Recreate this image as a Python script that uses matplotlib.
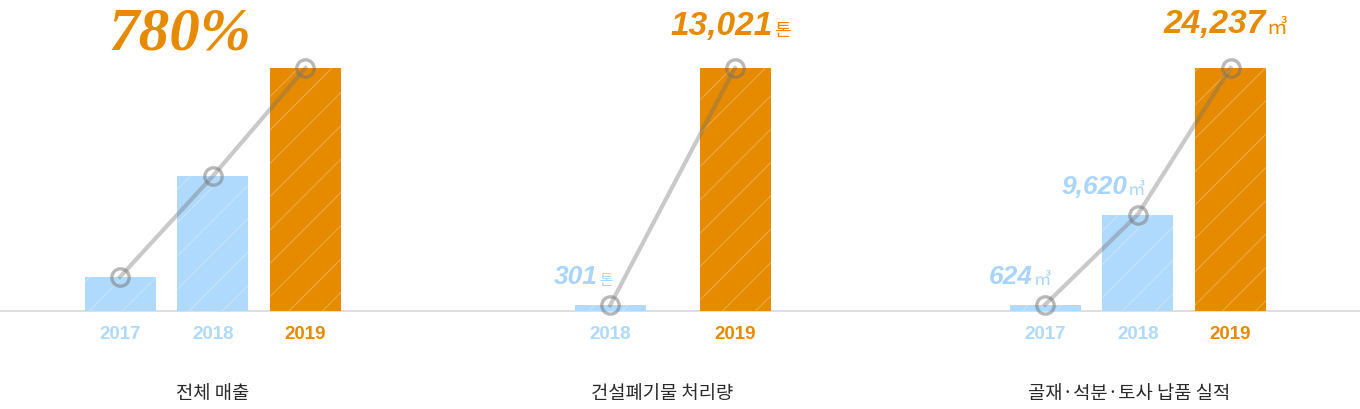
import matplotlib.pyplot as plt
from matplotlib.lines import Line2D

plt.rcParams['hatch.linewidth'] = 0.7

# data
sales_years = ['2017', '2018', '2019']
sales_index = [14.0, 55.5, 100.0]          # relative bar heights (2019 = 100)
sales_growth = '780%'

waste_years = ['2018', '2019']
waste_tons = [301, 13021]

aggr_years = ['2017', '2018', '2019']
aggr_m3 = [624, 9620, 24237]

titles = ['전체 매출', '건설폐기물 처리량', '골재·석분·토사 납품 실적']

BLUE = '#b0dafd'
BLUE_TXT = '#a9d5fa'
ORANGE = '#e68a00'
LINE = (0.45, 0.45, 0.45, 0.38)

W, H = 1360, 409
fig = plt.figure(figsize=(W / 100, H / 100), dpi=100)

base_px = 311          # baseline, pixels from top
bar_px = 243           # height of the tallest bar in pixels

num_font = ['Liberation Sans Narrow', 'Liberation Sans', 'DejaVu Sans']
kr_font = ['Noto Sans CJK KR', 'DejaVu Sans']


def make_axes(left_px, spacing_px, n):
    width = (n + 1) * spacing_px
    ax = fig.add_axes([left_px / W, (H - base_px) / H, width / W, base_px / H])
    ax.set_xlim(-1, n)
    ax.axis('off')
    return ax


def draw_panel(ax, years, values, bar_w):
    n = len(values)
    x = list(range(n))
    top = max(values)
    ax.set_ylim(0, top * base_px / bar_px)
    colors = [BLUE] * (n - 1) + [ORANGE]
    ax.bar(x, values, bar_w, color=colors, edgecolor=(1, 1, 1, 0.3),
           linewidth=0, hatch='/', zorder=1)
    ax.plot(x, values, color=LINE, lw=3, marker='o', ms=12.5,
            mfc='none', mec=(0.45, 0.45, 0.45, 0.5), mew=2.4,
            clip_on=False, zorder=3)
    for i, yr in enumerate(years):
        ax.annotate(yr, xy=(i, 0), xytext=(0, -28), textcoords='offset pixels',
                    ha='center', va='baseline', fontsize=13.5, fontweight='bold',
                    family=num_font, color=colors[i])
    return colors


def value_label(ax, i, v, text, unit, dx, dy, size, usize, color):
    ax.annotate(text, xy=(i, v), xytext=(dx, dy), textcoords='offset pixels',
                ha='right', va='baseline', fontsize=size, fontweight='bold',
                fontstyle='italic', family=num_font, color=color,
                annotation_clip=False)
    if unit:
        ax.annotate(unit, xy=(i, v), xytext=(dx + 1, dy - 1), textcoords='offset pixels',
                    ha='left', va='baseline', fontsize=usize, family=kr_font,
                    color=color, annotation_clip=False)


def title(ax, xpos, text):
    ax.annotate(text, xy=(xpos, 0), xytext=(0, -83), textcoords='offset pixels',
                ha='center', va='center', fontsize=13.5, family=kr_font,
                color='#2a2a2a', annotation_clip=False)


# baseline across the whole width
fig.add_artist(Line2D([0, 1], [(H - base_px) / H] * 2, transform=fig.transFigure,
                      color='#d9d9d9', lw=1.2, zorder=0))

# panel 1
ax1 = make_axes(120 - 92.75, 92.75, 3)
draw_panel(ax1, sales_years, sales_index, 71 / 92.75)
ax1.annotate(sales_growth, xy=(2, sales_index[2]), xytext=(-126, 18),
             textcoords='offset pixels', ha='center', va='baseline',
             fontsize=44, fontweight='bold', fontstyle='italic',
             family=['Liberation Serif', 'DejaVu Serif'], color=ORANGE,
             annotation_clip=False)
title(ax1, 1.0, titles[0])

# panel 2
ax2 = make_axes(610 - 125, 125, 2)
draw_panel(ax2, waste_years, waste_tons, 71 / 125)
value_label(ax2, 0, waste_tons[0], f'{waste_tons[0]:,}', '톤', -12, 21, 19, 10.5, BLUE_TXT)
value_label(ax2, 1, waste_tons[1], f'{waste_tons[1]:,}', '톤', 38, 33, 24, 13, ORANGE)
title(ax2, 0.416, titles[1])

# panel 3
ax3 = make_axes(1045 - 92.75, 92.75, 3)
draw_panel(ax3, aggr_years, aggr_m3, 71 / 92.75)
value_label(ax3, 0, aggr_m3[0], f'{aggr_m3[0]:,}', '㎥', -12, 21, 19, 12.5, BLUE_TXT)
value_label(ax3, 1, aggr_m3[1], f'{aggr_m3[1]:,}', '㎥', -11, 21, 19, 12.5, BLUE_TXT)
value_label(ax3, 2, aggr_m3[2], f'{aggr_m3[2]:,}', '㎥', 35, 35, 24, 15, ORANGE)
title(ax3, 0.906, titles[2])

fig.savefig('out.png', dpi=100)
